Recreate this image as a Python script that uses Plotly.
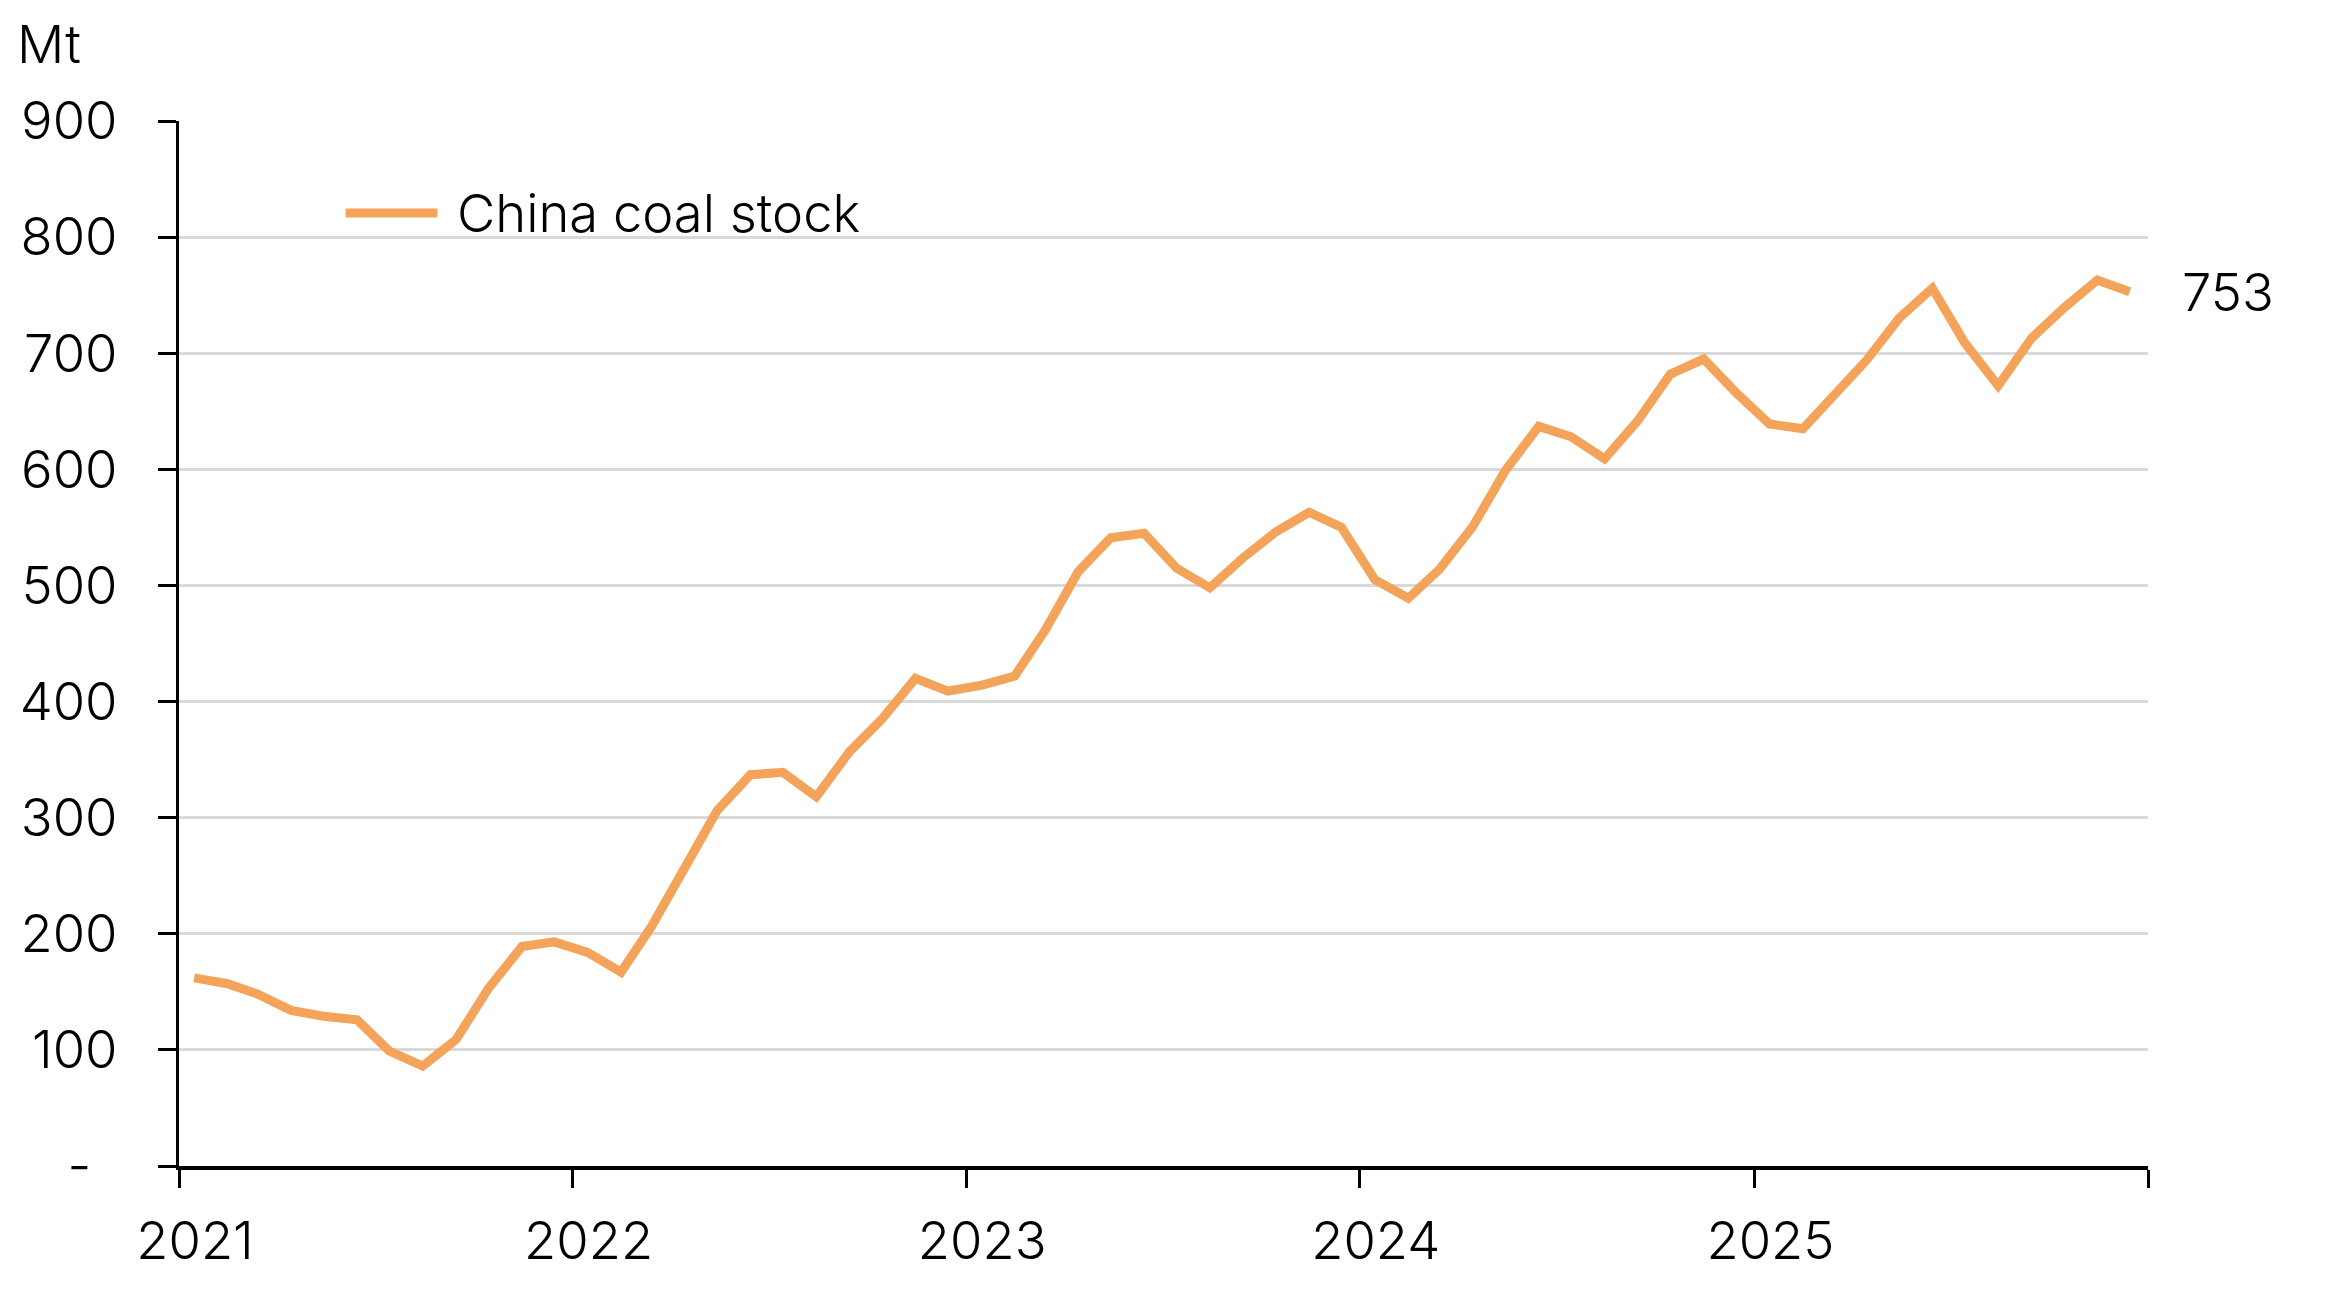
import pandas as pd
import plotly.graph_objects as go

months = pd.date_range("2021-01-01", periods=60, freq="MS") + pd.Timedelta(days=14)
stock = [162, 157, 148, 134, 129, 126, 99, 86, 109, 153, 189, 193,
         184, 167, 206, 257, 306, 337, 339, 318, 357, 385, 420, 409,
         414, 422, 461, 512, 541, 545, 515, 498, 524, 546, 563, 550,
         505, 489, 514, 551, 599, 637, 628, 609, 642, 682, 695, 666,
         639, 635, 664, 694, 730, 756, 709, 672, 713, 739, 763, 753]
series_name = "China coal stock"
year_ticks = ["2021-01-01", "2022-01-01", "2023-01-01", "2024-01-01", "2025-01-01", "2026-01-01"]
year_labels = ["2021", "2022", "2023", "2024", "2025", ""]
y_ticks = [0, 100, 200, 300, 400, 500, 600, 700, 800, 900]
y_labels = ["-\u2002", "100", "200", "300", "400", "500", "600", "700", "800", "900"]
unit = "Mt"

color = "#F4A35B"
FONT = "Inter"
FS = 52.5
WT = 300
W, H = 2342, 1299
L, R, T, B = 166, 2140, 113, 1158


def px(x):
    return (x - L) / (R - L)


def py(y):
    return (B - y) / (B - T)


fig = go.Figure()
fig.add_trace(go.Scatter(x=months, y=stock, mode="lines", name=series_name,
                         line=dict(color=color, width=9), showlegend=False))

fig.update_layout(
    width=W, height=H,
    margin=dict(l=L, r=W - R, t=T, b=H - B),
    paper_bgcolor="white", plot_bgcolor="white",
    font=dict(family=FONT, size=FS, color="black"),
)
fig.update_xaxes(
    type="date", range=["2021-01-01", "2026-01-01"],
    tickmode="array", tickvals=year_ticks, ticktext=year_labels,
    ticks="outside", ticklen=18, tickwidth=2.5, tickcolor="black",
    showline=True, linecolor="black", linewidth=3.5,
    showgrid=False, zeroline=False,
    ticklabelshift=16, ticklabelstandoff=8,
    tickfont=dict(family=FONT, size=FS, color="black", weight=WT),
)
fig.update_yaxes(
    range=[0, 900], tickmode="array", tickvals=y_ticks, ticktext=y_labels,
    ticks="outside", ticklen=18, tickwidth=2.5, tickcolor="black",
    showline=True, linecolor="black", linewidth=3,
    showgrid=True, gridcolor="#D9D9D9", gridwidth=2.5, zeroline=False,
    ticklabelstandoff=30,
    tickfont=dict(family=FONT, size=FS, color="black", weight=WT),
)

# unit label
fig.add_annotation(text=unit, xref="paper", yref="paper", x=px(2), y=py(36),
                   xanchor="left", yanchor="middle", showarrow=False,
                   font=dict(family=FONT, size=FS, color="black", weight=WT))
# end value label
fig.add_annotation(text=f"{stock[-1]}", x=months[-1], y=stock[-1], xref="x", yref="y",
                   xanchor="left", yanchor="middle", xshift=50, showarrow=False,
                   font=dict(family=FONT, size=FS, color="black", weight=WT))
# legend
fig.add_shape(type="line", xref="paper", yref="paper", x0=px(333), x1=px(425),
              y0=py(205), y1=py(205), line=dict(color=color, width=9))
fig.add_annotation(text=series_name, xref="paper", yref="paper", x=px(443), y=py(205),
                   xanchor="left", yanchor="middle", showarrow=False,
                   font=dict(family=FONT, size=FS, color="black", weight=WT))

fig.write_html("out.html")
